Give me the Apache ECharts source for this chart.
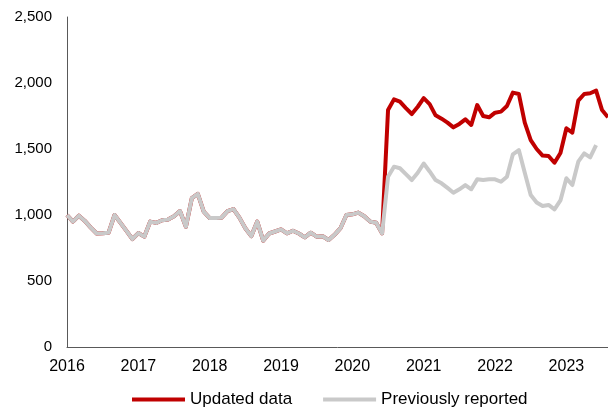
<!DOCTYPE html>
<html>
<head>
<meta charset="utf-8">
<script src="https://cdn.jsdelivr.net/npm/echarts@6/dist/echarts.min.js"></script>
<style>
html,body{margin:0;padding:0;background:#fff;}
#chart{width:608px;height:409px;}
</style>
</head>
<body>
<div id="chart"></div>
<script>
// Monthly data, Jan 2016 – Aug 2023
var years = ['2016','2017','2018','2019','2020','2021','2022','2023'];
var monthCount = 92;

var updatedData = [
  1000, 950, 995, 955, 905, 860, 862, 866, 1000, 940, 880, 818,
  863, 836, 950, 940, 960, 965, 990, 1030, 911, 1128, 1160, 1025,
  977, 977, 980, 1030, 1045, 980, 900, 840, 950, 806, 860, 875,
  891, 861, 881, 860, 831, 866, 836, 839, 811, 850, 900, 1000,
  1005, 1018, 990, 950, 942, 861, 1795, 1876, 1859, 1810, 1765, 1820,
  1885, 1840, 1755, 1730, 1700, 1664, 1690, 1725, 1682, 1833, 1750, 1740,
  1775, 1783, 1826, 1927, 1917, 1700, 1568, 1500, 1450, 1447, 1396, 1470,
  1657, 1624, 1866, 1917, 1922, 1942, 1795, 1740
];

var previousData = [
  1000, 950, 995, 955, 905, 860, 862, 866, 1000, 940, 880, 818,
  863, 836, 950, 940, 960, 965, 990, 1030, 911, 1128, 1160, 1025,
  977, 977, 980, 1030, 1045, 980, 900, 840, 950, 806, 860, 875,
  891, 861, 881, 860, 831, 866, 836, 839, 811, 850, 900, 1000,
  1005, 1018, 990, 950, 942, 861, 1290, 1366, 1354, 1310, 1265, 1320,
  1390, 1330, 1265, 1240, 1205, 1169, 1195, 1227, 1195, 1270, 1265, 1270,
  1270, 1252, 1290, 1460, 1492, 1320, 1152, 1095, 1068, 1076, 1043, 1110,
  1278, 1227, 1404, 1467, 1437, 1530, null, null
];

var yTicks = [0, 500, 1000, 1500, 2000, 2500];

var categories = [];
for (var i = 0; i < monthCount; i++) {
  var y = 2016 + Math.floor(i / 12);
  var m = (i % 12) + 1;
  categories.push(y + '-' + (m < 10 ? '0' + m : m));
}

var FONT = 'Liberation Sans, Arial, sans-serif';
var chart = echarts.init(document.getElementById('chart'), null, {renderer: 'canvas'});
chart.setOption({
  animation: false,
  backgroundColor: '#ffffff',
  grid: {left: 67, right: 0, top: 17, bottom: 62, containLabel: false},
  legend: {
    top: 386,
    left: 127,
    itemWidth: 53,
    itemHeight: 4,
    itemGap: 31,
    icon: 'rect',
    textStyle: {fontFamily: FONT, fontSize: 17, color: '#000'},
    data: ['Updated data', 'Previously reported']
  },
  xAxis: {
    type: 'category',
    data: categories,
    boundaryGap: false,
    axisLine: {show: true, lineStyle: {color: '#595959', width: 1}},
    axisTick: {show: false},
    splitLine: {show: false},
    axisLabel: {
      interval: function (idx) { return idx % 12 === 0; },
      formatter: function (v) { return v.slice(0, 4); },
      fontFamily: FONT, fontSize: 16, color: '#000', margin: 12
    }
  },
  yAxis: {
    type: 'value',
    min: 0, max: 2500, interval: 500,
    axisLine: {show: true, lineStyle: {color: '#595959', width: 1}},
    axisTick: {show: false},
    splitLine: {show: false},
    axisLabel: {
      formatter: function (v) { return v.toLocaleString('en-US'); },
      fontFamily: FONT, fontSize: 15, color: '#000', margin: 15
    }
  },
  series: [
    {
      name: 'Updated data', type: 'line', data: updatedData,
      showSymbol: false, symbol: 'none',
      lineStyle: {color: '#C00000', width: 4, join: 'round'},
      itemStyle: {color: '#C00000'}, z: 2
    },
    {
      name: 'Previously reported', type: 'line', data: previousData,
      showSymbol: false, symbol: 'none',
      lineStyle: {color: '#C9C9C9', width: 4, join: 'round'},
      itemStyle: {color: '#C9C9C9'}, z: 3
    }
  ]
});
</script>
</body>
</html>
